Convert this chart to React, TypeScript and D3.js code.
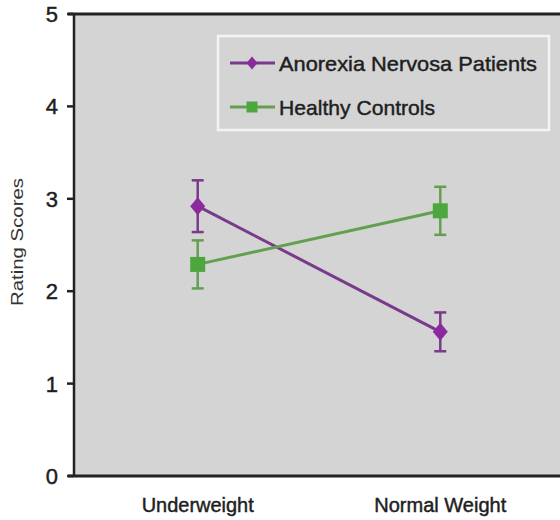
import React from 'react';
import * as d3 from 'd3';

const categories = ['Underweight', 'Normal Weight'];
const yTicks = [0, 1, 2, 3, 4, 5];

const seriesNames = ['Anorexia Nervosa Patients', 'Healthy Controls'];
const anorexiaMeans = [2.92, 1.56];
const anorexiaErr = [0.28, 0.21];
const controlMeans = [2.29, 2.87];
const controlErr = [0.26, 0.26];

const W = 560;
const H = 520;

function App() {
  const x = d3.scalePoint<string>().domain(categories).range([74, 564]).padding(0.51);
  const y = d3.scaleLinear().domain([0, 5]).range([476, 14]);

  const line = d3.line<number>()
    .x((d, i) => x(categories[i]) as number)
    .y(d => y(d));

  const series = [
    { name: seriesNames[0], means: anorexiaMeans, errs: anorexiaErr, line: '#7a3a8c', mark: '#8a2a9c', shape: 'diamond' },
    { name: seriesNames[1], means: controlMeans, errs: controlErr, line: '#62a050', mark: '#4ea63e', shape: 'square' },
  ];

  const marker = (shape: string, cx: number, cy: number, s: number, fill: string) => {
    if (shape === 'diamond') {
      return <path d={`M${cx},${cy - s * 0.6}L${cx + s / 2},${cy}L${cx},${cy + s * 0.6}L${cx - s / 2},${cy}Z`} fill={fill} />;
    }
    return <rect x={cx - s / 2} y={cy - s / 2} width={s} height={s} fill={fill} />;
  };

  const font = '"Liberation Sans", Arial, sans-serif';
  // slightly heavier text, the reference looks blurred/bold
  const ink = { fill: '#1e1e1e', stroke: '#1e1e1e', strokeWidth: 0.45 };

  return (
    <div style={{ position: 'absolute', left: 0, top: 0 }}>
      <svg width={W} height={H} style={{ display: 'block', background: '#fff' }} fontFamily={font}>
        {/* plot background */}
        <rect x={74} y={14} width={W - 74} height={476 - 14} fill="#d4d4d4" />

        {/* axes */}
        <line x1={68} x2={W} y1={14} y2={14} stroke="#222" strokeWidth={3} />
        <line x1={74} x2={74} y1={13} y2={477} stroke="#222" strokeWidth={2.5} />
        <line x1={68} x2={W} y1={476} y2={476} stroke="#222" strokeWidth={3} />
        {yTicks.map(t => (
          <g key={t}>
            <line x1={67} x2={74} y1={y(t)} y2={y(t)} stroke="#222" strokeWidth={2.5} />
            <text x={58} y={y(t)} dy="0.36em" textAnchor="end" fontSize={22} {...ink}>{t}</text>
          </g>
        ))}

        {categories.map((c, i) => (
          <text key={c} x={x(c)} y={512} textAnchor="middle" fontSize={20} {...ink}
            textLength={i === 0 ? 112 : 132} lengthAdjust="spacingAndGlyphs">{c}</text>
        ))}

        <text transform="translate(23,242) rotate(-90)" textAnchor="middle" fontSize={17} fill="#333"
          textLength={128} lengthAdjust="spacingAndGlyphs">Rating Scores</text>

        {/* legend */}
        <rect x={218} y={36} width={331} height={94} fill="#d4d4d4" stroke="#f4f4f4" strokeWidth={2.5} />
        {series.map((s, i) => {
          const ly = 63 + i * 44;
          return (
            <g key={s.name}>
              <line x1={230} x2={275} y1={ly} y2={ly} stroke={s.line} strokeWidth={3} />
              {marker(s.shape, 252, ly, 11, s.mark)}
              <text x={279} y={ly} dy="0.36em" fontSize={21} {...ink}
                textLength={i === 0 ? 258 : 156} lengthAdjust="spacingAndGlyphs">{s.name}</text>
            </g>
          );
        })}

        {/* series */}
        {series.map(s => (
          <g key={s.name}>
            <path d={line(s.means) as string} fill="none" stroke={s.line} strokeWidth={3} />
            {s.means.map((m, i) => {
              const cx = x(categories[i]) as number;
              return (
                <g key={i}>
                  <line x1={cx} x2={cx} y1={y(m + s.errs[i])} y2={y(m - s.errs[i])} stroke={s.line} strokeWidth={2.5} />
                  <line x1={cx - 6} x2={cx + 6} y1={y(m + s.errs[i])} y2={y(m + s.errs[i])} stroke={s.line} strokeWidth={2.5} />
                  <line x1={cx - 6} x2={cx + 6} y1={y(m - s.errs[i])} y2={y(m - s.errs[i])} stroke={s.line} strokeWidth={2.5} />
                  {marker(s.shape, cx, y(m), 15, s.mark)}
                </g>
              );
            })}
          </g>
        ))}
      </svg>
    </div>
  );
}

export default App;
